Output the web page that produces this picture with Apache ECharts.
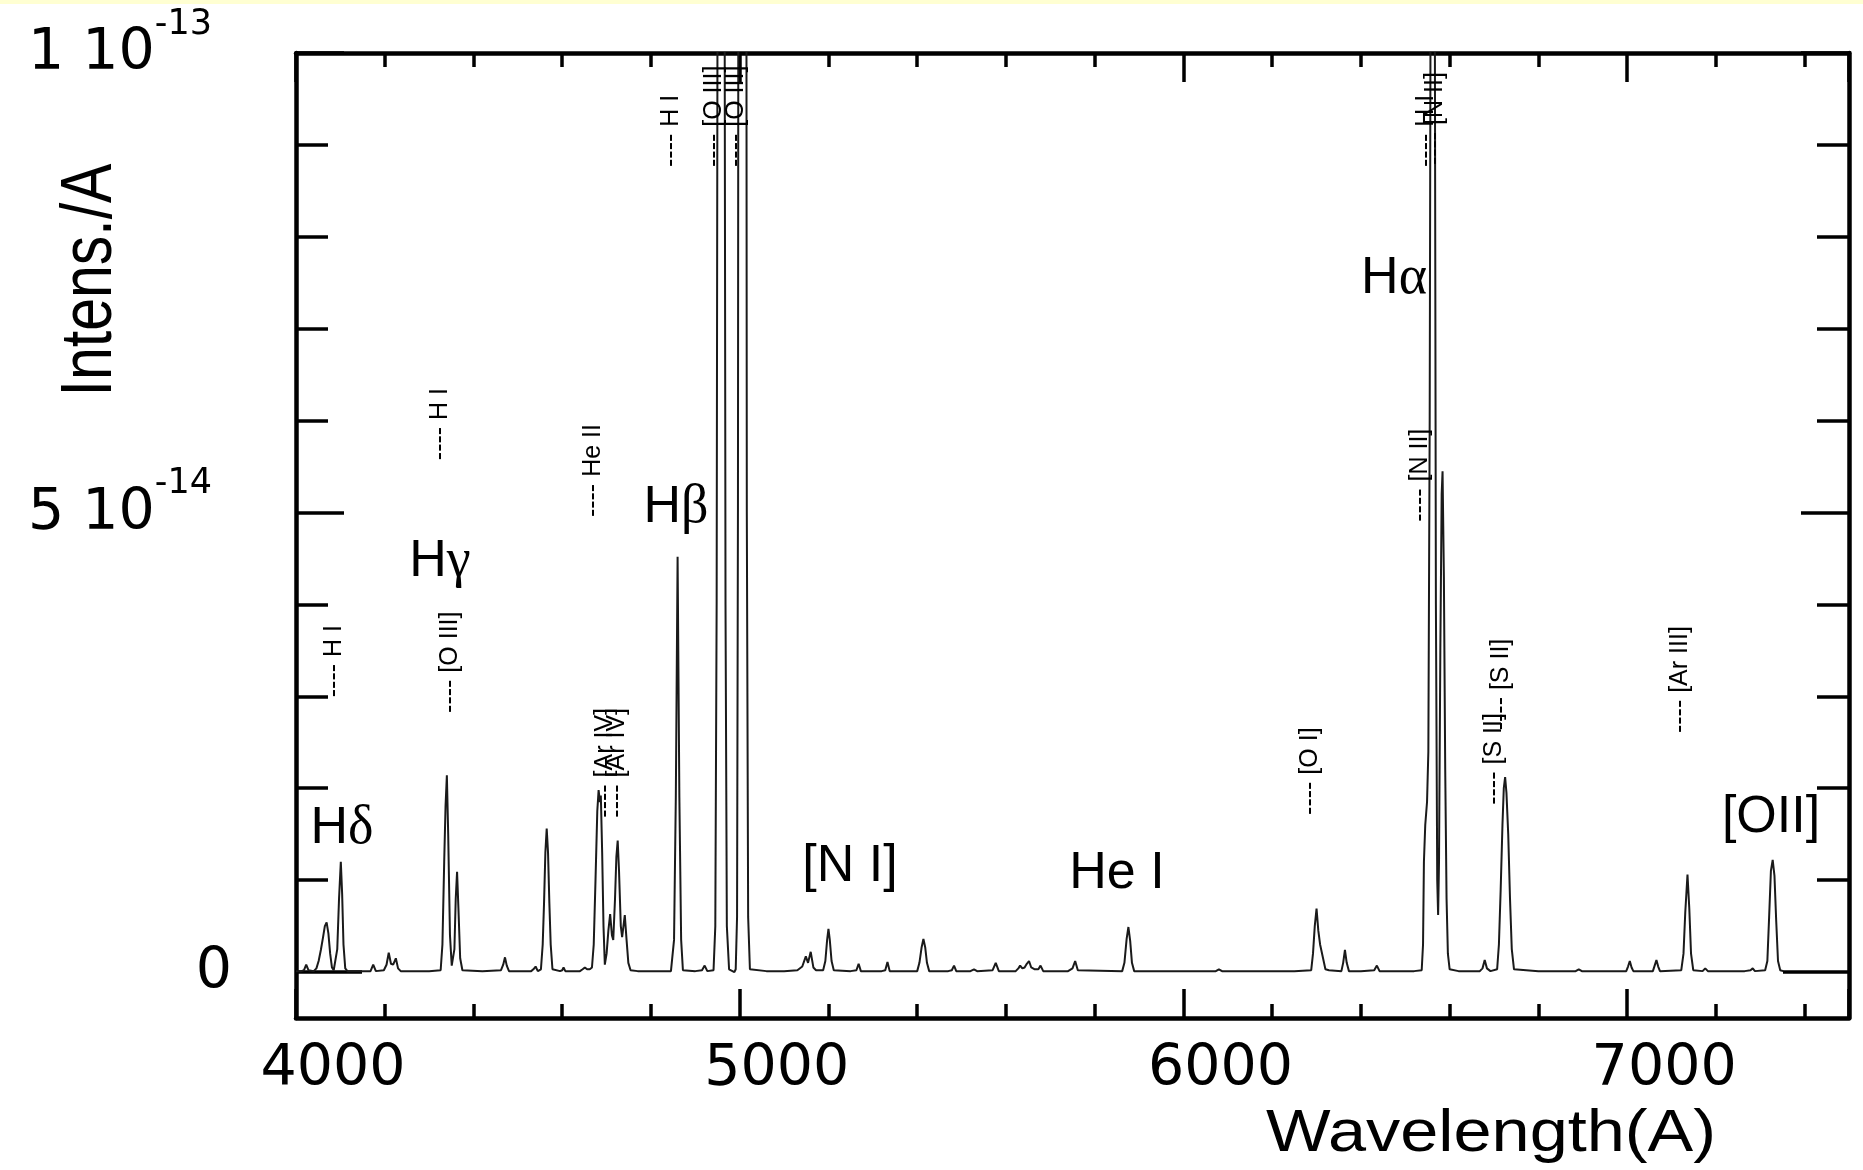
<!DOCTYPE html>
<html>
<head>
<meta charset="utf-8">
<script src="https://cdn.jsdelivr.net/npm/echarts@6/dist/echarts.min.js"></script>
<style>
html,body{margin:0;padding:0;background:#ffffff;}
#chart{width:1863px;height:1170px;}
</style>
</head>
<body>
<div id="chart"></div>
<script>
// Spectrum: [wavelength (A), flux in units of 1e-14]
const spectrum = [
[4000,0.01],[4012,0.01],[4018,0.02],[4023,0.08],[4028,0.02],[4040,0.01],[4046,0.04],[4051,0.12],[4056,0.24],[4061,0.38],[4065,0.5],[4069,0.54],[4073,0.42],[4077,0.2],[4081,0.05],[4085,0.02],
[4089,0.03],[4093,0.25],[4097,0.8],[4101,1.2],[4104,0.85],[4107,0.3],[4111,0.04],[4116,0.01],
[4150,0.01],[4168,0.01],[4174,0.08],[4180,0.01],[4198,0.02],[4204,0.08],[4209,0.21],[4214,0.09],[4219,0.08],[4225,0.15],[4230,0.04],[4236,0.01],
[4300,0.01],[4326,0.02],[4330,0.3],[4334,1.2],[4337,1.8],[4340,2.14],[4343,1.5],[4347,0.4],[4351,0.07],[4354,0.08],[4357,0.25],[4360,0.8],[4363,1.09],[4366,0.7],[4370,0.15],[4375,0.02],
[4420,0.01],[4462,0.02],[4467,0.08],[4471,0.16],[4475,0.07],[4480,0.01],
[4530,0.01],[4535,0.03],[4540,0.06],[4545,0.01],
[4552,0.03],[4556,0.3],[4559,0.75],[4562,1.3],[4565,1.56],[4568,1.3],[4571,0.75],[4574,0.3],[4578,0.03],
[4595,0.01],[4600,0.02],[4603,0.05],[4607,0.01],[4640,0.01],[4646,0.03],[4651,0.05],[4656,0.03],[4662,0.03],
[4667,0.05],[4671,0.3],[4675,1.0],[4679,1.75],[4682,1.98],[4685,1.85],[4687,1.92],[4690,1.3],[4693,0.5],[4696,0.08],[4700,0.2],[4704,0.45],[4708,0.63],[4712,0.4],[4715,0.35],[4719,0.8],[4722,1.25],[4725,1.43],[4728,1.1],[4732,0.5],[4735,0.38],[4738,0.5],[4741,0.62],[4745,0.35],[4749,0.1],[4754,0.02],
[4770,0.01],[4820,0.01],[4845,0.01],
[4848,0.02],[4852,0.35],[4856,1.9],[4860,4.52],[4864,1.9],[4868,0.35],[4872,0.02],
[4900,0.01],[4915,0.02],[4921,0.07],[4927,0.01],
[4941,0.02],[4945,0.5],[4948,4],[4951,14],[4958,30],[4965,14],[4968,4],[4971,0.5],[4976,0.03],[4988,0.0],
[4991,0.03],[4994,0.6],[4996,5],[4998,18],[5006,45],[5014,18],[5016,5],[5019,0.6],[5023,0.03],
[5060,0.01],[5100,0.01],[5130,0.02],[5141,0.06],[5149,0.17],[5154,0.1],[5160,0.22],[5166,0.05],[5172,0.02],
[5188,0.02],[5193,0.12],[5197,0.35],[5200,0.47],[5203,0.35],[5207,0.12],[5212,0.02],
[5250,0.01],[5263,0.02],[5268,0.09],[5273,0.01],[5320,0.01],[5328,0.02],[5333,0.11],[5338,0.01],
[5400,0.01],[5405,0.1],[5410,0.27],[5414,0.36],[5418,0.27],[5422,0.1],[5427,0.01],
[5470,0.01],[5478,0.02],[5483,0.07],[5488,0.01],[5520,0.01],[5528,0.03],[5535,0.01],
[5570,0.02],[5577,0.1],[5584,0.01],
[5622,0.01],[5628,0.04],[5632,0.07],[5637,0.04],[5642,0.05],[5647,0.09],[5652,0.12],[5657,0.05],[5665,0.03],[5673,0.03],[5678,0.07],[5684,0.01],
[5740,0.01],[5750,0.04],[5756,0.12],[5762,0.02],
[5862,0.01],[5867,0.1],[5872,0.36],[5876,0.49],[5880,0.34],[5884,0.1],[5889,0.01],
[5950,0.01],[6020,0.01],[6073,0.01],[6080,0.03],[6087,0.01],[6150,0.01],[6250,0.01],
[6288,0.02],[6292,0.2],[6296,0.5],[6300,0.69],[6304,0.45],[6308,0.3],[6312,0.29],[6316,0.12],[6320,0.03],[6328,0.02],
[6356,0.01],[6360,0.1],[6364,0.24],[6368,0.1],[6373,0.01],
[6400,0.01],[6430,0.02],[6436,0.07],[6442,0.01],
[6520,0.01],[6537,0.02],[6540,0.3],[6542,1.2],[6545,1.6],[6549,1.85],[6552,2.4],[6555,6],[6558,13],[6561,18],[6563,20],[6566,12],[6569,4],[6572,1.0],[6574,0.62],[6576,1.2],[6579,3.5],[6582,5.2],[6584,5.45],[6587,4.3],[6590,2.2],[6593,0.8],[6596,0.2],[6600,0.03],
[6620,0.01],[6668,0.01],[6674,0.04],[6679,0.13],[6684,0.04],[6692,0.01],
[6707,0.03],[6711,0.3],[6715,0.9],[6719,1.6],[6722,2.0],[6725,2.12],[6728,1.95],[6732,1.5],[6736,0.8],[6740,0.25],[6745,0.03],
[6800,0.01],[6884,0.01],[6891,0.03],[6898,0.01],
[6998,0.01],[7002,0.06],[7006,0.12],[7010,0.05],[7014,0.01],
[7058,0.01],[7062,0.07],[7066,0.13],[7070,0.06],[7074,0.01],
[7122,0.02],[7127,0.2],[7131,0.65],[7136,1.06],[7140,0.7],[7144,0.2],[7149,0.02],
[7170,0.01],[7176,0.04],[7182,0.01],[7265,0.01],[7278,0.02],[7283,0.04],[7288,0.01],
[7311,0.02],[7316,0.12],[7320,0.6],[7324,1.1],[7328,1.22],[7332,1.05],[7336,0.55],[7340,0.12],[7345,0.02],[7352,0.01]
];

// Axis ticks and labels
const xTickValues = [4000, 5000, 6000, 7000];
const xTickLabels = ['4000', '5000', '6000', '7000'];
const yTickValues = [0, 5, 10];
const yTickMantissa = ['0', '5 10', '1 10'];
const yTickExponent = ['', '-14', '-13'];
const yMinorTickValues = [0, 1, 2, 3, 4, 5, 6, 7, 8, 9, 10];
const yMajorTickValues = [5, 10];
const yZeroTickValues = [0];

// Line identifications (small vertical labels)
const lineIdNames = ['H I', 'H I', '[O III]', 'He II', '[Ar IV]', '[Ar IV]', 'H I', '[O III]', '[O III]', '[O I]', '[N II]', 'H I', '[N II]', '[S II]', '[S II]', '[Ar III]'];
const lineIdWavelengths = [4101.7, 4340.5, 4363.2, 4685.7, 4711.3, 4740.2, 4861.3, 4958.9, 5006.8, 6300.3, 6548.1, 6562.8, 6583.4, 6716.4, 6730.8, 7135.8];
const lineIdLevels = [2.99, 5.57, 2.82, 4.95, 1.68, 1.68, 8.76, 8.76, 8.76, 1.71, 4.90, 8.76, 8.78, 1.82, 2.63, 2.60];

// Large feature labels
const featureNames = ['H\u03b4', 'H\u03b3', 'H\u03b2', 'H\u03b1', '[N I]', 'He I', '[OII]'];
const featureWavelengths = [4103.7, 4324.5, 4856.4, 6474.6, 5248.6, 5850.3, 7324.3];
const featureLevels = [1.56, 4.46, 5.05, 7.54, 1.15, 1.07, 1.68];

const AXIS_W = 4.5, TICK_W = 3.5, INK = '#000';
const tickStyle = {color: INK, width: TICK_W};

const chart = echarts.init(document.getElementById('chart'), null, {renderer: 'canvas'});

function yAxisDef(position, withLine, tickValues, tickLen, withLabels) {
  return {
    type: 'value', min: -0.5, max: 10, position: position,
    splitLine: {show: false},
    axisLine: {show: withLine, onZero: false, lineStyle: {color: INK, width: AXIS_W}},
    axisTick: {show: true, inside: true, length: tickLen, customValues: tickValues, lineStyle: tickStyle},
    axisLabel: withLabels ? {
      show: true, customValues: yTickValues, margin: 64, padding: [0, 0, 16, 0],
      formatter: function (v) {
        const i = yTickValues.indexOf(v);
        if (i < 0) return '';
        return yTickExponent[i] ? '{m|' + yTickMantissa[i] + '}{e|' + yTickExponent[i] + '}{p| }' : '{m|' + yTickMantissa[i] + '}';
      },
      rich: {
        m: {fontFamily: 'DejaVu Sans', fontSize: 57, lineHeight: 76, verticalAlign: 'bottom', color: INK},
        e: {fontFamily: 'DejaVu Sans', fontSize: 35, lineHeight: 35, verticalAlign: 'top', color: INK},
        p: {width: 20, fontSize: 10, lineHeight: 10}
      }
    } : {show: false, customValues: tickValues}
  };
}

function xAxisDef(position, withLabels) {
  return {
    type: 'value', min: 4000, max: 7500, interval: 1000, position: position,
    splitLine: {show: false}, minorSplitLine: {show: false},
    axisLine: {show: true, onZero: false, lineStyle: {color: INK, width: AXIS_W}},
    axisTick: {show: true, inside: true, length: 29, lineStyle: tickStyle},
    minorTick: {show: true, splitNumber: 5, length: 14, lineStyle: tickStyle},
    axisLabel: withLabels ? {
      show: true, showMaxLabel: false, margin: 24, padding: [0, 0, 0, 74],
      fontFamily: 'DejaVu Sans', fontSize: 57, lineHeight: 57, color: INK,
      formatter: function (v) {
        const i = xTickValues.indexOf(v);
        return i >= 0 ? xTickLabels[i] : '';
      }
    } : {show: false}
  };
}

const option = {
  animation: false,
  backgroundColor: '#ffffff',
  grid: {left: 296, right: 14, top: 53, bottom: 152, containLabel: false},
  xAxis: [xAxisDef('bottom', true), xAxisDef('top', false)],
  yAxis: [
    yAxisDef('left', true, yMinorTickValues, 32, false),
    yAxisDef('left', false, yMajorTickValues, 48, true),
    yAxisDef('left', false, yZeroTickValues, 66, false),
    yAxisDef('right', true, yMinorTickValues, 32, false),
    yAxisDef('right', false, yMajorTickValues, 48, false),
    yAxisDef('right', false, yZeroTickValues, 66, false)
  ],
  graphic: [
    {type: 'rect', shape: {x: 0, y: 0, width: 1863, height: 4}, style: {fill: '#FFFFD2'}, silent: true},
    {type: 'text', x: 91, y: 280, rotation: Math.PI / 2, scaleY: 1.22,
      style: {text: 'Intens./A', fontFamily: 'Liberation Sans', fontSize: 59, fill: INK,
        align: 'center', verticalAlign: 'middle', textAlign: 'center', textVerticalAlign: 'middle'}},
    {type: 'text', x: 1491, y: 1135, scaleX: 1.16,
      style: {text: 'Wavelength(A)', fontFamily: 'Liberation Sans', fontSize: 59, fill: INK,
        align: 'center', verticalAlign: 'middle', textAlign: 'center', textVerticalAlign: 'middle'}}
  ],
  series: [
    {
      type: 'line', name: 'spectrum', data: spectrum, xAxisIndex: 0, yAxisIndex: 0,
      showSymbol: false, symbol: 'none', clip: true, z: 3,
      lineStyle: {color: '#1a1a1a', width: 2}
    },
    {
      type: 'custom', name: 'line ids', xAxisIndex: 0, yAxisIndex: 0, silent: true, clip: false, z: 4,
      data: lineIdWavelengths.map(function (w, i) { return [w, lineIdLevels[i]]; }),
      renderItem: function (params, api) {
        const p = api.coord([api.value(0), api.value(1)]);
        return {
          type: 'text', x: p[0] - 7, y: p[1], rotation: Math.PI / 2,
          style: {text: '---- ' + lineIdNames[params.dataIndex], fontFamily: 'Liberation Sans', fontSize: 25, fill: INK,
            align: 'left', verticalAlign: 'middle', textAlign: 'left', textVerticalAlign: 'middle'}
        };
      }
    },
    {
      type: 'custom', name: 'features', xAxisIndex: 0, yAxisIndex: 0, silent: true, clip: false, z: 4,
      data: featureWavelengths.map(function (w, i) { return [w, featureLevels[i]]; }),
      renderItem: function (params, api) {
        const p = api.coord([api.value(0), api.value(1)]);
        const txt = featureNames[params.dataIndex].replace(/([\u03b1-\u03c9])/g, '{g|$1}');
        return {
          type: 'text', x: p[0], y: p[1],
          style: {text: txt, fontFamily: 'Liberation Sans', fontSize: 52, fill: INK,
            align: 'center', verticalAlign: 'middle', textAlign: 'center', textVerticalAlign: 'middle',
            rich: {g: {fontFamily: 'Liberation Serif', fontSize: 54, fill: INK}}}
        };
      }
    }
  ]
};
chart.setOption(option);
</script>
</body>
</html>
